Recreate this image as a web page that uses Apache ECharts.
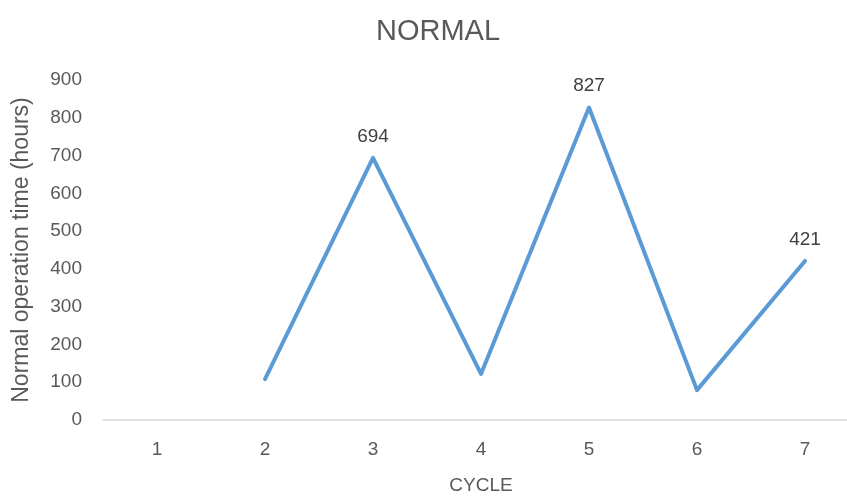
<!DOCTYPE html>
<html>
<head>
<meta charset="utf-8">
<style>
  html, body { margin: 0; padding: 0; background: #fff; }
  #chart { width: 847px; height: 496px; }
</style>
<script src="https://cdn.jsdelivr.net/npm/echarts@6/dist/echarts.min.js"></script>
</head>
<body>
<div id="chart"></div>
<script>
// Normal operation time per cycle
const cycles = ['1', '2', '3', '4', '5', '6', '7'];
const hours = [null, 108, 694, 122, 827, 79, 421];
const labelledCycles = ['3', '5', '7'];
const yTicks = { min: 0, max: 900, interval: 100 };

const FONT = '"Liberation Sans", Arial, sans-serif';

const seriesData = hours.map((v, i) => ({
  value: v,
  label: { show: labelledCycles.includes(cycles[i]) }
}));

const chart = echarts.init(document.getElementById('chart'), null, { renderer: 'canvas' });
chart.setOption({
  animation: false,
  backgroundColor: '#ffffff',
  title: {
    text: 'NORMAL',
    left: 433,
    top: 12,
    textAlign: 'center',
    textStyle: { fontFamily: FONT, fontSize: 29, fontWeight: 'normal', color: '#595959' }
  },
  grid: { left: 103, width: 756, top: 80, bottom: 76, outerBoundsMode: 'none' },
  xAxis: {
    type: 'category',
    data: cycles,
    boundaryGap: true,
    name: 'CYCLE',
    nameLocation: 'middle',
    nameGap: 56,
    nameTextStyle: { fontFamily: FONT, fontSize: 19, color: '#595959' },
    axisLine: { show: true, lineStyle: { color: '#d9d9d9', width: 1.5 } },
    axisTick: { show: false },
    axisLabel: { fontFamily: FONT, fontSize: 19, color: '#595959', margin: 20 },
    splitLine: { show: false }
  },
  yAxis: {
    type: 'value',
    min: yTicks.min,
    max: yTicks.max,
    interval: yTicks.interval,
    name: 'Normal operation time (hours)',
    nameLocation: 'middle',
    nameGap: 70,
    nameTextStyle: { fontFamily: FONT, fontSize: 23, color: '#595959' },
    axisLine: { show: false },
    axisTick: { show: false },
    axisLabel: { fontFamily: FONT, fontSize: 19, color: '#595959', margin: 21 },
    splitLine: { show: false }
  },
  series: [{
    type: 'line',
    data: seriesData,
    symbol: 'circle',
    symbolSize: 0,
    showSymbol: true,
    itemStyle: { color: '#5B9BD5' },
    smooth: false,
    lineStyle: { color: '#5B9BD5', width: 4, cap: 'round', join: 'round' },
    label: {
      position: 'top',
      distance: 12,
      fontFamily: FONT,
      fontSize: 19,
      color: '#404040',
      formatter: p => String(p.value)
    }
  }]
});
</script>
</body>
</html>
